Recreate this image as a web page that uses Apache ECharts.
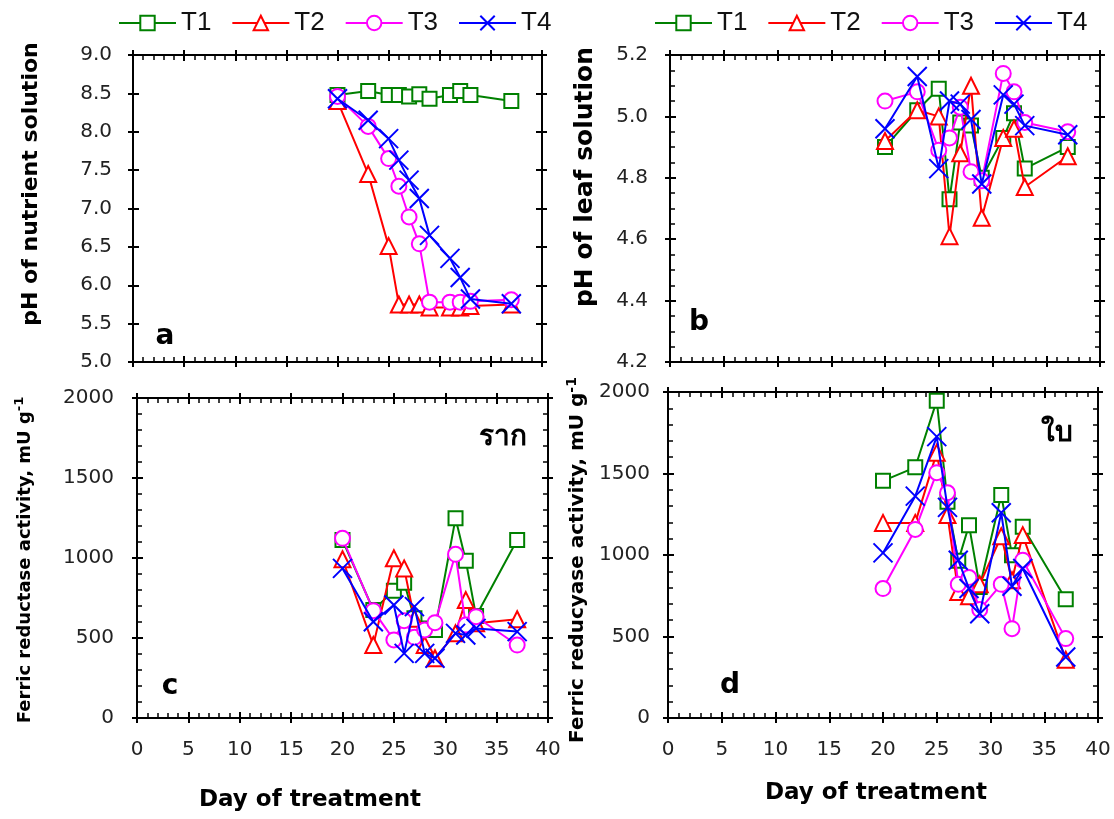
<!DOCTYPE html>
<html><head><meta charset="utf-8">
<script src="https://cdn.jsdelivr.net/npm/echarts@6/dist/echarts.min.js"></script>
<style>html,body{margin:0;padding:0;background:#fff}#c{width:1114px;height:819px}</style>
</head><body><div id="c"></div>
<script>
// ---- data ----
const days = [20, 23, 25, 26, 27, 28, 29, 31, 32, 33, 37];
const names = ['T1', 'T2', 'T3', 'T4'];
const xTicks = [0, 5, 10, 15, 20, 25, 30, 35, 40];
// (a) pH of nutrient solution
const phNutT1 = [8.48, 8.53, 8.48, 8.48, 8.46, 8.49, 8.43, 8.48, 8.53, 8.48, 8.40];
const phNutT2 = [8.40, 7.45, 6.51, 5.75, 5.75, 5.75, 5.71, 5.71, 5.71, 5.73, 5.75];
const phNutT3 = [8.46, 8.07, 7.65, 7.29, 6.89, 6.54, 5.78, 5.78, 5.78, 5.79, 5.81];
const phNutT4 = [8.43, 8.15, 7.91, 7.63, 7.37, 7.13, 6.65, 6.35, 6.10, 5.82, 5.76];
// (b) pH of leaf solution
const phLeafT1 = [4.90, 5.02, 5.09, 4.73, 4.98, 4.97, 4.80, 4.93, 5.01, 4.83, 4.90];
const phLeafT2 = [4.92, 5.02, 5.00, 4.61, 4.88, 5.10, 4.67, 4.93, 4.96, 4.77, 4.87];
const phLeafT3 = [5.05, 5.08, 4.89, 4.93, 5.03, 4.82, 4.79, 5.14, 5.08, 4.98, 4.95];
const phLeafT4 = [4.96, 5.13, 4.83, 5.05, 5.04, 4.99, 4.78, 5.07, 5.04, 4.97, 4.94];
// (c) ferric reductase activity, root
const frRootT1 = [1112, 675, 796, 846, 623, 560, 550, 1248, 983, 637, 1112];
const frRootT2 = [992, 456, 998, 935, 620, 456, 373, 529, 737, 592, 617];
const frRootT3 = [1123, 671, 488, 608, 504, 550, 596, 1023, 581, 633, 456];
const frRootT4 = [935, 602, 706, 404, 696, 404, 373, 529, 519, 560, 540];
// (d) ferric reductase activity, leaf
const frLeafT1 = [1455, 1538, 1947, 1326, 964, 1183, 804, 1368, 999, 1173, 728];
const frLeafT2 = [1197, 1197, 1628, 1245, 773, 747, 820, 1115, 845, 1122, 358];
const frLeafT3 = [794, 1157, 1505, 1382, 820, 862, 665, 820, 548, 968, 487];
const frLeafT4 = [1013, 1361, 1726, 1292, 968, 794, 640, 1259, 808, 917, 374];

const panels = [
  {sets: [phNutT1, phNutT2, phNutT3, phNutT4], ymin: 5, ymax: 9, yint: 0.5, ysplit: 0, dec: 1, xlab: false,
   grid: {left: 133, top: 55, width: 409, height: 307}, ylabMargin: 21},
  {sets: [phLeafT1, phLeafT2, phLeafT3, phLeafT4], ymin: 4.2, ymax: 5.2, yint: 0.2, ysplit: 4, dec: 1, xlab: false,
   grid: {left: 670, top: 55, width: 430, height: 307}, ylabMargin: 22},
  {sets: [frRootT1, frRootT2, frRootT3, frRootT4], ymin: 0, ymax: 2000, yint: 500, ysplit: 5, dec: 0, xlab: true,
   grid: {left: 137, top: 398, width: 411, height: 320}, ylabMargin: 23},
  {sets: [frLeafT1, frLeafT2, frLeafT3, frLeafT4], ymin: 0, ymax: 2000, yint: 500, ysplit: 5, dec: 0, xlab: true,
   grid: {left: 668, top: 392, width: 430, height: 326}, ylabMargin: 18}
];

const colors = ['#008000', '#FF0000', '#FF00FF', '#0000FF'];
const symbols = ['rect', 'triangle', 'circle', 'path://M0,0L10,10M10,0L0,10'];
const symSizes = [14, 16, 15, 19];
const LBL = {fontFamily: 'DejaVu Sans', fontSize: 20, color: '#222'};

const grids = [], xAxes = [], yAxes = [], series = [];
panels.forEach((p, g) => {
  grids.push(Object.assign({containLabel: false}, p.grid));
  const xb = {type: 'value', gridIndex: g, min: 0, max: 40, interval: 5, splitLine: {show: false}};
  const xi = xAxes.length;
  xAxes.push(Object.assign({}, xb, {position: 'bottom',
    axisLine: {show: true, onZero: false, lineStyle: {color: '#000', width: 2}},
    axisTick: {show: true, inside: true, length: 6, lineStyle: {color: '#000', width: 2}},
    minorTick: {show: true, splitNumber: 5, length: 5, lineStyle: {color: '#000', width: 1.5}},
    axisLabel: Object.assign({show: p.xlab, margin: 22, customValues: xTicks}, LBL)}));
  xAxes.push(Object.assign({}, xb, {position: 'bottom', axisLine: {show: false, onZero: false},
    axisTick: {show: true, inside: false, length: 5, lineStyle: {color: '#000', width: 2}}, axisLabel: {show: false}}));
  xAxes.push(Object.assign({}, xb, {position: 'top',
    axisLine: {show: true, onZero: false, lineStyle: {color: '#000', width: 2}},
    axisTick: {show: true, inside: true, length: 6, lineStyle: {color: '#000', width: 2}},
    minorTick: {show: true, splitNumber: 5, length: 5, lineStyle: {color: '#000', width: 1.5}},
    axisLabel: {show: false}}));
  xAxes.push(Object.assign({}, xb, {position: 'top', axisLine: {show: false, onZero: false},
    axisTick: {show: true, inside: false, length: 5, lineStyle: {color: '#000', width: 2}}, axisLabel: {show: false}}));

  const yb = {type: 'value', gridIndex: g, min: p.ymin, max: p.ymax, interval: p.yint, splitLine: {show: false}};
  const yi = yAxes.length;
  const minor = p.ysplit ? {show: true, splitNumber: p.ysplit, length: 5, lineStyle: {color: '#000', width: 1.5}} : {show: false};
  yAxes.push(Object.assign({}, yb, {position: 'left',
    axisLine: {show: true, onZero: false, lineStyle: {color: '#000', width: 2}},
    axisTick: {show: true, inside: true, length: 6, lineStyle: {color: '#000', width: 2}},
    minorTick: minor,
    axisLabel: Object.assign({show: true, margin: p.ylabMargin, formatter: v => v.toFixed(p.dec)}, LBL)}));
  yAxes.push(Object.assign({}, yb, {position: 'left', axisLine: {show: false, onZero: false},
    axisTick: {show: true, inside: false, length: 5, lineStyle: {color: '#000', width: 2}}, axisLabel: {show: false}}));
  yAxes.push(Object.assign({}, yb, {position: 'right',
    axisLine: {show: true, onZero: false, lineStyle: {color: '#000', width: 2}},
    axisTick: {show: true, inside: true, length: 6, lineStyle: {color: '#000', width: 2}},
    minorTick: minor, axisLabel: {show: false}}));
  yAxes.push(Object.assign({}, yb, {position: 'right', axisLine: {show: false, onZero: false},
    axisTick: {show: true, inside: false, length: 5, lineStyle: {color: '#000', width: 2}}, axisLabel: {show: false}}));

  p.sets.forEach((arr, k) => {
    series.push({
      name: names[k], type: 'line', xAxisIndex: xi, yAxisIndex: yi, z: 2 + k,
      data: days.map((d, i) => [d, arr[i]]),
      symbol: symbols[k], symbolSize: symSizes[k], showAllSymbol: true,
      lineStyle: {color: colors[k], width: 2},
      itemStyle: {color: '#fff', borderColor: colors[k], borderWidth: 2},
      emphasis: {disabled: true}
    });
  });
});

const legendBase = {data: names, top: 10, padding: 0, itemWidth: 57, itemHeight: 18, itemGap: 20,
  textStyle: {fontFamily: 'Liberation Sans Narrow, Liberation Sans', fontSize: 26, color: '#111'}};

const bold = (s) => 'bold ' + s + 'px "DejaVu Sans"';
const txt = (text, x, y, size, rot, extra) => Object.assign({type: 'text', x: x, y: y, rotation: rot || 0,
  style: {text: text, font: bold(size), fill: '#000', textAlign: 'center', textVerticalAlign: 'middle'}}, extra || {});
const richTxt = (main, x, y, size) => ({type: 'text', x: x, y: y, rotation: Math.PI / 2,
  style: {text: '{m|' + main + '}{s|-1}', textAlign: 'center', textVerticalAlign: 'middle', fill: '#000',
    rich: {m: {font: bold(size), fill: '#000', lineHeight: size + 6},
           s: {font: bold(Math.round(size * 0.7)), fill: '#000', verticalAlign: 'top', lineHeight: size + 6, padding: [0, 0, size * 0.55, 0]}}}});

const chart = echarts.init(document.getElementById('c'), null, {renderer: 'canvas'});
chart.setOption({
  animation: false,
  backgroundColor: '#fff',
  legend: [Object.assign({left: 118}, legendBase), Object.assign({left: 654}, legendBase)],
  grid: grids, xAxis: xAxes, yAxis: yAxes, series: series,
  graphic: [
    txt('pH of nutrient solution', 31, 184, 22, Math.PI / 2),
    txt('pH of leaf solution', 585, 177, 25, Math.PI / 2),
    richTxt('Ferric reductase activity, mU g', 25, 560, 18),
    richTxt('Ferric reducyase activity, mU g', 578, 560, 20),
    txt('Day of treatment', 310, 800, 23),
    txt('Day of treatment', 876, 793, 23),
    txt('a', 165, 337, 28),
    txt('b', 699, 323, 28),
    txt('c', 170, 687, 28),
    txt('d', 730, 686, 28),
    txt('ราก', 503, 438, 28),
    txt('ใบ', 1057, 434, 28)
  ]
});
</script></body></html>
